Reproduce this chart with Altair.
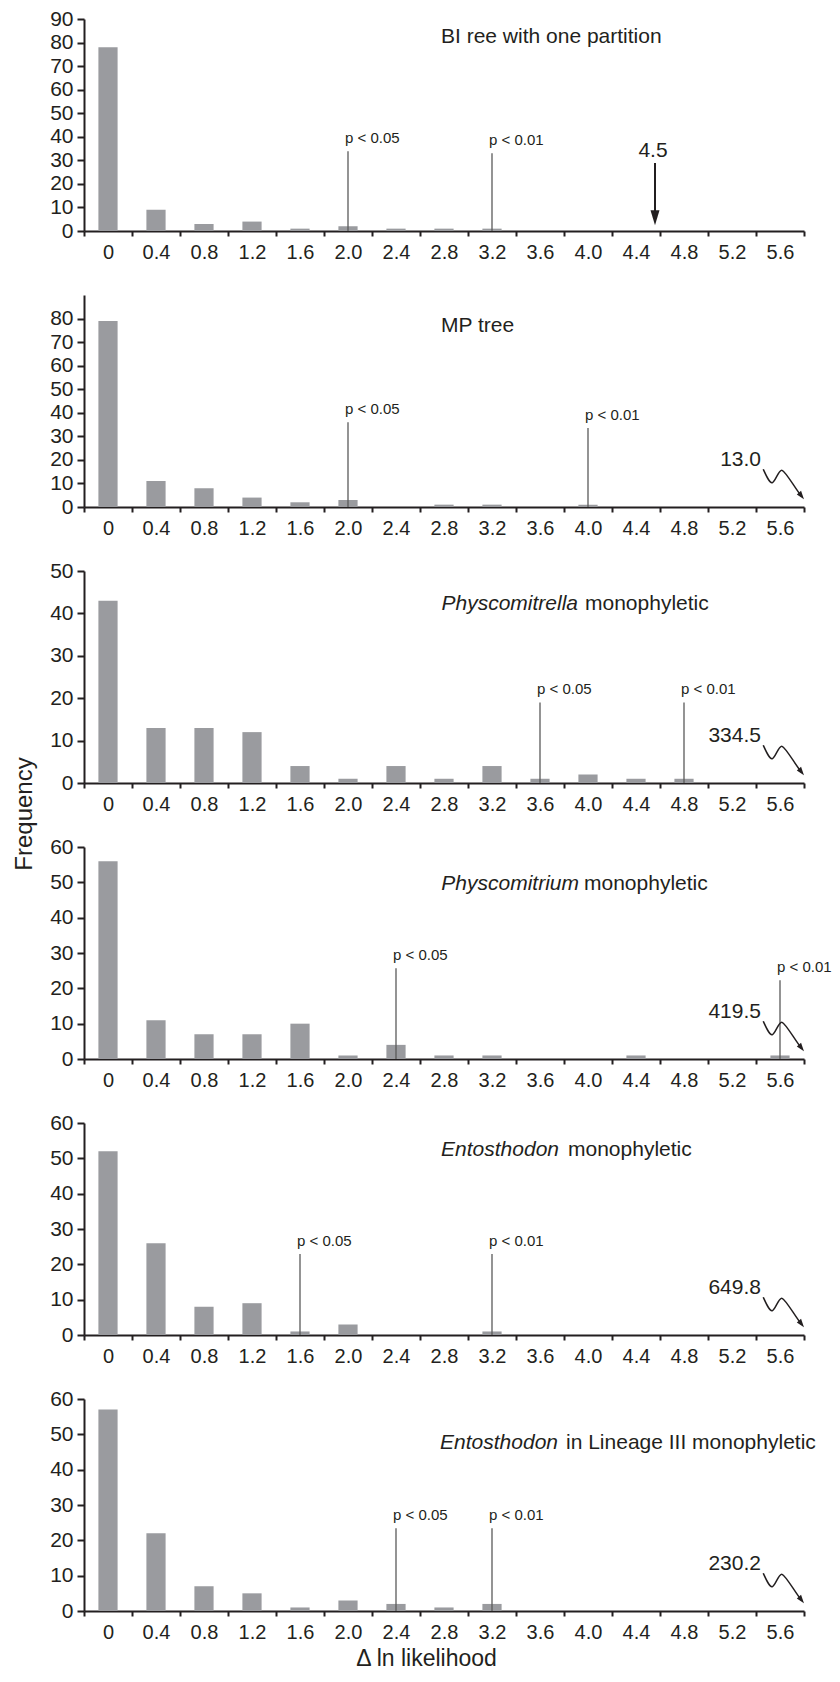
import altair as alt
import pandas as pd

# ---------------- data ----------------
cats = ["0", "0.4", "0.8", "1.2", "1.6", "2.0", "2.4", "2.8", "3.2",
        "3.6", "4.0", "4.4", "4.8", "5.2", "5.6"]

freq_bi_one_partition = [78, 9, 3, 4, 1, 2, 1, 1, 1, 0, 0, 0, 0, 0, 0]
freq_mp_tree = [79, 11, 8, 4, 2, 3, 0, 1, 1, 0, 1, 0, 0, 0, 0]
freq_physcomitrella = [43, 13, 13, 12, 4, 1, 4, 1, 4, 1, 2, 1, 1, 0, 0]
freq_physcomitrium = [56, 11, 7, 7, 10, 1, 4, 1, 1, 0, 0, 1, 0, 0, 1]
freq_entosthodon = [52, 26, 8, 9, 1, 3, 0, 0, 1, 0, 0, 0, 0, 0, 0]
freq_entosthodon_lineage3 = [57, 22, 7, 5, 1, 3, 2, 1, 2, 0, 0, 0, 0, 0, 0]

panel_freqs = [freq_bi_one_partition, freq_mp_tree, freq_physcomitrella,
               freq_physcomitrium, freq_entosthodon, freq_entosthodon_lineage3]

title_italic = ["", "", "Physcomitrella", "Physcomitrium", "Entosthodon", "Entosthodon"]
title_regular = ["BI ree with one partition", "MP tree", "monophyletic", "monophyletic",
                 "monophyletic", "in Lineage III monophyletic"]
title_level = [82.5, 77, 42.2, 49.6, 52.4, 47.5]

y_max = [90, 90, 50, 60, 60, 60]
y_tick_max = [90, 80, 50, 60, 60, 60]

p05_at = ["2.0", "2.0", "3.6", "2.4", "1.6", "2.4"]
p05_top = [33.9, 36, 19, 25.7, 22.9, 23.4]
p01_at = ["3.2", "4.0", "4.8", "5.6", "3.2", "3.2"]
p01_top = [33, 33.5, 19, 22.3, 22.9, 23.4]

offscale_values = ["", "13.0", "334.5", "419.5", "649.8", "230.2"]

arrow_at = "4.4"
arrow_label = "4.5"
arrow_label_level = 33.9
arrow_top = 28.9
arrow_bottom = 7.5
arrow_head_level = 5.65

# ---------------- style / layout ----------------
FONT = "Liberation Sans"
INK = "#231f20"
BAR = "#9a9b9f"
RULE = "#5a5a5a"
W, H = 720, 212

title_anchor = ["2.8", "2.8", "4.0", "4.0", "4.0", "4.0"]
title_italic_dx = [0, 0, -10, -9, -29, -30]
title_regular_dx = [-3, -3, -3, -4, -20, -22]

SQUIGGLE = ("M -0.96 -0.70 C -0.80 -0.35 -0.65 -0.02 -0.53 -0.06 "
            "C -0.38 -0.10 -0.22 -0.72 -0.06 -0.65 "
            "C 0.12 -0.58 0.55 0.20 0.86 0.58")
SQUIGGLE_HEAD = "M 0.98 0.73 L 0.64 0.50 L 0.84 0.32 Z"
ARROW_HEAD = "M -0.6 -1 L 0.6 -1 L 0 1 Z"


def panel(i):
    freq = panel_freqs[i]
    df = pd.DataFrame({"cat": cats, "freq": freq})
    xs = alt.Scale(domain=cats, paddingInner=0, paddingOuter=0)
    ys = alt.Scale(domain=[0, y_max[i]], nice=False, zero=True)

    last = i == len(panel_freqs) - 1
    x_axis_kw = dict(
        tickBand="extent", labelAngle=0, labelFontSize=20, labelPadding=6,
        tickSize=5, tickWidth=2, domainWidth=2, labelColor=INK,
        domainColor=INK, tickColor=INK, grid=False,
    )
    if last:
        x_axis = alt.Axis(title="Δ ln likelihood", titleFontSize=23,
                          titleFontWeight="normal", titleColor=INK,
                          titleX=342, titleY=47, titleBaseline="middle",
                          titleAlign="center", **x_axis_kw)
    else:
        x_axis = alt.Axis(title=None, **x_axis_kw)

    y_axis = alt.Axis(title=None, values=list(range(0, y_tick_max[i] + 1, 10)),
                      labelFontSize=21, labelPadding=4, tickSize=7, tickWidth=2,
                      domainWidth=2, labelColor=INK, domainColor=INK,
                      tickColor=INK, grid=False, labelOverlap=False)

    def X():
        return alt.X("cat:N", scale=xs, axis=x_axis)

    def Y(field):
        return alt.Y(field, scale=ys, axis=y_axis)

    bars = alt.Chart(df).mark_bar(color=BAR, width={"band": 0.4}).encode(
        x=X(), y=Y("freq:Q"),
    )

    layers = [bars]

    pdf = pd.DataFrame({
        "cat": [p05_at[i], p01_at[i]],
        "top": [p05_top[i], p01_top[i]],
        "base": [0, 0],
        "label": ["p < 0.05", "p < 0.01"],
    })
    layers.append(
        alt.Chart(pdf).mark_rule(color=RULE, strokeWidth=1.3).encode(
            x=X(), y=Y("base:Q"), y2="top:Q")
    )
    layers.append(
        alt.Chart(pdf).mark_text(align="left", baseline="middle", dx=-3, dy=-13,
                                 fontSize=15, color=INK).encode(
            x=X(), y=Y("top:Q"), text="label:N")
    )

    tdf = pd.DataFrame({"cat": [title_anchor[i]], "y": [title_level[i]],
                        "it": [title_italic[i]], "rg": [title_regular[i]]})
    if title_italic[i]:
        layers.append(
            alt.Chart(tdf).mark_text(align="right", baseline="middle",
                                     fontStyle="italic", fontSize=21, color=INK,
                                     dx=title_italic_dx[i]).encode(
                x=X(), y=Y("y:Q"), text="it:N")
        )
    layers.append(
        alt.Chart(tdf).mark_text(align="left", baseline="middle", fontSize=21,
                                 color=INK, dx=title_regular_dx[i]).encode(
            x=X(), y=Y("y:Q"), text="rg:N")
    )

    if offscale_values[i]:
        sdf = pd.DataFrame({"cat": ["5.6"], "y": [0], "label": [offscale_values[i]]})
        layers.append(
            alt.Chart(sdf).mark_point(shape=SQUIGGLE, size=1764, filled=False,
                                      stroke=INK, strokeWidth=1.5, opacity=1,
                                      xOffset=3.4, yOffset=-23).encode(
                x=X(), y=Y("y:Q"))
        )
        layers.append(
            alt.Chart(sdf).mark_point(shape=SQUIGGLE_HEAD, size=1764, filled=True,
                                      color=INK, opacity=1, strokeWidth=0,
                                      xOffset=3.4, yOffset=-23).encode(
                x=X(), y=Y("y:Q"))
        )
        layers.append(
            alt.Chart(sdf).mark_text(align="right", baseline="middle", fontSize=21,
                                     color=INK, dx=-19, dy=-47).encode(
                x=X(), y=Y("y:Q"), text="label:N")
        )

    if i == 0:
        adf = pd.DataFrame({"cat": [arrow_at], "top": [arrow_top],
                            "bot": [arrow_bottom], "head": [arrow_head_level],
                            "ly": [arrow_label_level], "label": [arrow_label]})
        layers.append(
            alt.Chart(adf).mark_rule(color=INK, strokeWidth=2, xOffset=19).encode(
                x=X(), y=Y("top:Q"), y2="bot:Q")
        )
        layers.append(
            alt.Chart(adf).mark_point(shape=ARROW_HEAD, size=225, filled=True,
                                      color=INK, opacity=1, strokeWidth=0,
                                      xOffset=19).encode(
                x=X(), y=Y("head:Q"))
        )
        layers.append(
            alt.Chart(adf).mark_text(align="center", baseline="middle", fontSize=21,
                                     color=INK, dx=17).encode(
                x=X(), y=Y("ly:Q"), text="label:N")
        )

    if i == 3:
        fdf = pd.DataFrame({"t": ["Frequency"]})
        layers.append(
            alt.Chart(fdf).mark_text(angle=270, align="center", baseline="middle",
                                     fontSize=24, color=INK).encode(
                x=alt.value(-59), y=alt.value(-33), text="t:N")
        )

    return alt.layer(*layers).properties(width=W, height=H)


chart = alt.vconcat(*[panel(i) for i in range(6)], spacing=64, bounds="flush").properties(
    padding={"top": 0, "left": 4, "right": 0, "bottom": 0}
).configure(font=FONT).configure_view(stroke=None)

chart.save("out.html", embed_options={"renderer": "svg", "actions": False})
